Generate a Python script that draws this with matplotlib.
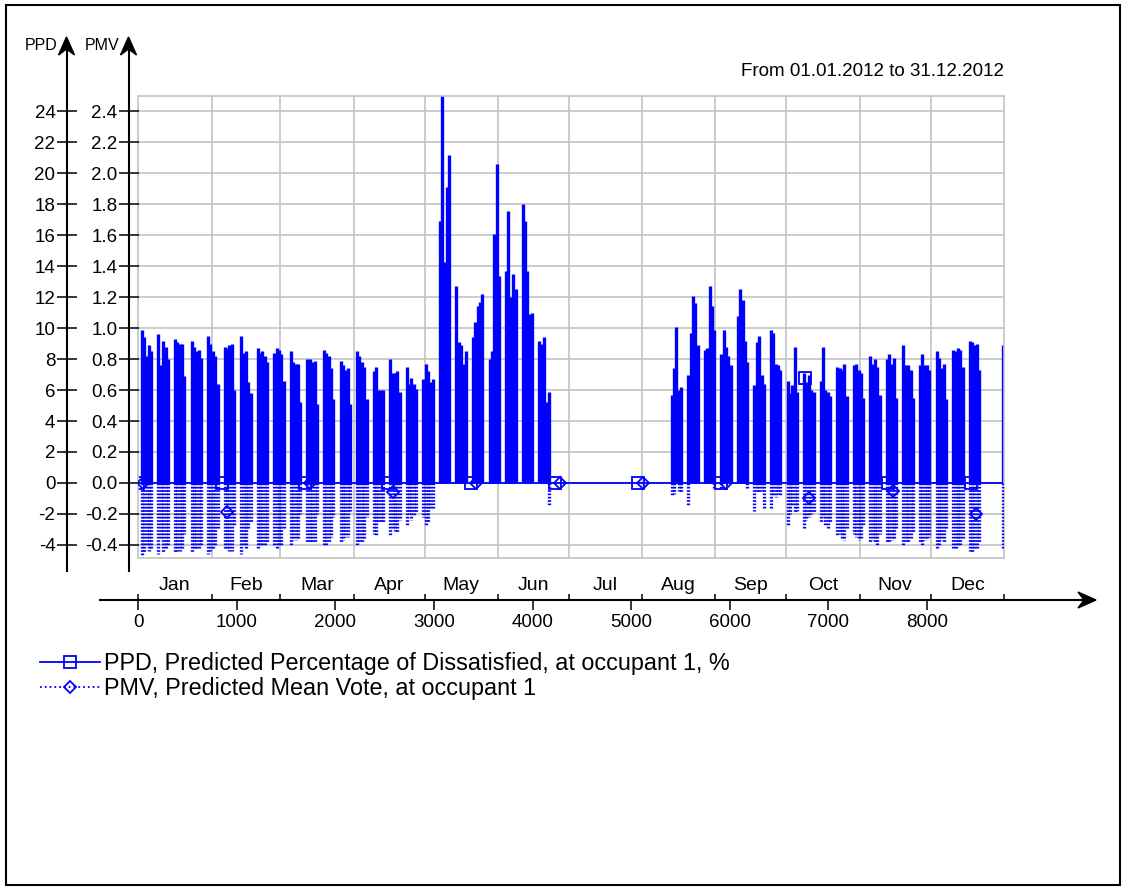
import matplotlib
matplotlib.use('Agg')
import matplotlib.pyplot as plt
import numpy as np
from matplotlib.lines import Line2D
from matplotlib.patches import Rectangle, Polygon

plt.rcParams['font.family'] = ['Liberation Sans', 'DejaVu Sans']
plt.rcParams['axes.unicode_minus'] = False

# ---- data -------------------------------------------------------------
hours_in_year = 8784  # 2012 is a leap year
month_names = ['Jan', 'Feb', 'Mar', 'Apr', 'May', 'Jun',
               'Jul', 'Aug', 'Sep', 'Oct', 'Nov', 'Dec']
month_days = [31, 29, 31, 30, 31, 30, 31, 31, 30, 31, 30, 31]

# occupied weeks (Mon-Fri): daily max PPD [%] and daily min PMV [-]
spring_first_monday = 1      # day of year (0 = 1 Jan 2012)
spring_ppd = [
    [9.9, 9.4, 8.2, 8.9, 8.5], [9.6, 7.6, 9.2, 8.8, 8.0], [9.3, 9.1, 9.0, 9.0, 6.9],
    [9.2, 8.8, 8.5, 8.6, 8.1], [9.5, 9.0, 8.5, 8.2, 6.4], [8.8, 8.7, 8.9, 9.0, 6.0],
    [9.5, 8.4, 8.5, 6.5, 5.8], [8.7, 8.4, 8.5, 8.2, 7.8], [8.4, 8.7, 8.6, 8.3, 6.6],
    [8.5, 7.8, 7.7, 7.7, 5.2], [8.0, 8.0, 7.8, 7.9, 5.1], [8.6, 8.4, 8.2, 7.4, 5.4],
    [7.9, 7.6, 7.3, 7.4, 5.1], [8.5, 8.2, 7.8, 7.5, 5.4], [7.2, 7.5, 6.0, 6.0, 6.0],
    [8.0, 7.1, 7.1, 7.2, 5.9], [7.5, 6.4, 6.8, 6.4, 6.1], [6.7, 7.7, 7.2, 6.5, 6.7],
    [16.9, 25.5, 14.3, 19.1, 21.2], [12.7, 9.1, 8.9, 7.7, 8.5], [9.4, 10.4, 11.4, 11.7, 12.2],
    [8.0, 8.5, 16.1, 20.6, 13.4], [13.7, 17.6, 12.0, 13.5, 12.5], [18.0, 16.9, 13.7, 10.9, 11.0],
    [9.2, 9.0, 9.4, 5.2, 5.9],
]
spring_pmv = [
    [-0.47, -0.45, -0.41, -0.44, -0.42], [-0.46, -0.36, -0.45, -0.43, -0.40],
    [-0.45, -0.44, -0.44, -0.43, -0.33], [-0.45, -0.43, -0.42, -0.42, -0.40],
    [-0.46, -0.44, -0.42, -0.40, -0.30], [-0.43, -0.42, -0.44, -0.44, -0.28],
    [-0.46, -0.41, -0.42, -0.30, -0.26], [-0.42, -0.41, -0.41, -0.40, -0.38],
    [-0.40, -0.42, -0.41, -0.40, -0.30], [-0.41, -0.37, -0.37, -0.36, -0.20],
    [-0.39, -0.39, -0.38, -0.38, -0.20], [-0.41, -0.40, -0.39, -0.35, -0.22],
    [-0.39, -0.37, -0.35, -0.35, -0.18], [-0.40, -0.39, -0.38, -0.36, -0.22],
    [-0.33, -0.34, -0.26, -0.25, -0.25], [-0.34, -0.30, -0.31, -0.32, -0.24],
    [-0.27, -0.20, -0.24, -0.21, -0.19], [-0.22, -0.28, -0.25, -0.17, -0.17],
    [0, 0, 0, 0, 0], [0, 0, 0, 0, 0], [0, 0, 0, 0, 0], [0, 0, 0, 0, 0],
    [0, 0, 0, 0, 0], [0, 0, 0, 0, 0], [0, 0, 0, 0, -0.14],
]
autumn_first_monday = 225
autumn_ppd = [
    [5.7, 7.4, 10.1, 6.0, 6.2], [7.0, 9.7, 12.1, 11.6, 8.9], [8.6, 8.7, 12.7, 11.4, 9.9],
    [8.3, 9.9, 8.8, 8.2, 7.6], [10.8, 12.5, 11.8, 9.2, 7.8], [6.3, 9.1, 9.5, 7.0, 6.4],
    [9.9, 9.7, 7.7, 7.6, 7.3], [6.6, 5.8, 6.3, 8.8, 5.9], [7.1, 6.5, 7.0, 6.0, 5.9],
    [6.6, 8.8, 6.0, 5.9, 5.6], [7.5, 7.4, 7.3, 7.7, 5.6], [7.6, 7.7, 7.3, 7.1, 5.5],
    [8.2, 7.7, 8.0, 7.5, 5.7], [8.0, 8.3, 7.7, 8.1, 5.5], [8.9, 7.6, 7.6, 7.3, 5.5],
    [7.6, 8.3, 7.6, 7.6, 7.3], [8.5, 8.1, 7.4, 7.7, 5.4], [8.6, 8.5, 8.7, 8.6, 7.5],
    [9.2, 9.1, 8.9, 9.0, 7.3],
]
autumn_pmv = [
    [-0.08, -0.07, 0, -0.05, -0.06], [-0.14, 0, 0, 0, 0], [0, 0, 0, 0, -0.03],
    [-0.04, 0, 0, 0, 0], [0, 0, 0, 0, -0.04], [-0.18, -0.06, -0.06, -0.05, -0.17],
    [-0.17, -0.08, -0.09, -0.07, -0.08], [-0.27, -0.20, -0.15, -0.19, -0.18],
    [-0.29, -0.24, -0.22, -0.20, -0.19], [-0.26, -0.22, -0.28, -0.30, -0.25],
    [-0.34, -0.33, -0.36, -0.37, -0.30], [-0.33, -0.35, -0.37, -0.36, -0.28],
    [-0.39, -0.37, -0.38, -0.40, -0.33], [-0.38, -0.39, -0.37, -0.36, -0.30],
    [-0.41, -0.38, -0.38, -0.36, -0.32], [-0.39, -0.40, -0.37, -0.36, -0.35],
    [-0.42, -0.40, -0.37, -0.38, -0.30], [-0.42, -0.43, -0.41, -0.40, -0.36],
    [-0.44, -0.45, -0.43, -0.43, -0.38],
]
last_day = 365          # Monday 31 Dec
last_day_ppd = 8.9
last_day_pmv = -0.43

ppd_marker_hours = [0, 845, 1690, 2535, 3380, 4225, 5070, 5915, 6760, 7605, 8450]
ppd_marker_vals = [0, 0, 0, 0, 0, 0, 0, 0, 6.8, 0, 0]
pmv_marker_hours = [50, 895, 1740, 2585, 3430, 4275, 5120, 5965, 6810, 7655, 8500]
pmv_marker_vals = [0, -0.19, 0, -0.06, 0, 0, 0, 0, -0.1, -0.05, -0.2]


def expand(first_monday, weeks):
    days, vals = [], []
    for w, week in enumerate(weeks):
        for d, v in enumerate(week):
            days.append(first_monday + 7 * w + d)
            vals.append(v)
    return days, vals


d1, p1 = expand(spring_first_monday, spring_ppd)
d2, p2 = expand(autumn_first_monday, autumn_ppd)
_, m1 = expand(spring_first_monday, spring_pmv)
_, m2 = expand(autumn_first_monday, autumn_pmv)
days = np.array(d1 + d2 + [last_day])
ppd = np.array(p1 + p2 + [last_day_ppd])
pmv = np.array(m1 + m2 + [last_day_pmv])
day_hours = days * 24 + 12
month_bounds = np.concatenate([[0], np.cumsum(month_days) * 24])
month_mids = (month_bounds[:-1] + month_bounds[1:]) / 2

# ---- layout (pixel helpers) ------------------------------------------
W, H = 1126, 890
fig = plt.figure(figsize=(W / 100, H / 100), dpi=100)


def fx(px):
    return px / W


def fy(py):
    return 1 - py / H


x0_px, x1_px = 138.3, 1004
y_top, y_bot = 96, 558
ppd_lo, ppd_hi = -4.85, 25.0
px_per_ppd = (y_bot - y_top) / (ppd_hi - ppd_lo)
px_per_hour = (x1_px - x0_px) / hours_in_year

ax = fig.add_axes([fx(x0_px), fy(y_bot), (x1_px - x0_px) / W, (y_bot - y_top) / H])
ax.set_xlim(0, hours_in_year)
ax.set_ylim(ppd_lo, ppd_hi)
ax.set_yticks(np.arange(-4, 25, 2))
ax.set_xticks(month_bounds[1:-1])
ax.grid(color='#c4c4c4', lw=1.2)
ax.tick_params(length=0, labelleft=False, labelbottom=False)
for s in ax.spines.values():
    s.set_color('#c4c4c4')
    s.set_linewidth(1.2)

ax_m = ax.twinx()
ax_m.set_ylim(ppd_lo / 10, ppd_hi / 10)
ax_m.axis('off')

neg = pmv < 0
ax_m.vlines(day_hours[neg], 0, pmv[neg], color='blue', lw=2.4,
            linestyles=[(0, (0.5, 0.5))])
ax.axhline(0, color='blue', lw=1.3)
ax.vlines(day_hours, 0, ppd, color='blue', lw=2.4)
ax.plot(ppd_marker_hours, ppd_marker_vals, ls='none', marker='s', ms=8,
        mfc='none', mec='blue', mew=1.3)
ax_m.plot(pmv_marker_hours, pmv_marker_vals, ls='none', marker='D', ms=6,
          mfc='none', mec='blue', mew=1.3)

# ---- left axes (PPD and PMV) -----------------------------------------
ax_bot_px, ax_top_px = 571, 48


def side_axis(xpx, scale, fmt):
    a = fig.add_axes([fx(xpx), fy(ax_bot_px), 0.00001, (ax_bot_px - ax_top_px) / H])
    lo = ppd_lo - (ax_bot_px - y_bot) / px_per_ppd
    hi = ppd_hi + (y_top - ax_top_px) / px_per_ppd
    a.set_ylim(lo / scale, hi / scale)
    a.patch.set_visible(False)
    for k in ['top', 'right', 'bottom']:
        a.spines[k].set_visible(False)
    a.spines['left'].set_linewidth(1.5)
    a.set_xticks([])
    ticks = np.round(np.arange(-4, 25, 2) / scale, 2) + 0.0
    a.set_yticks(ticks)
    a.set_yticklabels([fmt % t for t in ticks])
    a.tick_params(axis='y', direction='inout', length=14, width=1.1,
                  labelsize=13.5, pad=1)
    return a


side_axis(66.5, 1, '%d')
side_axis(128.5, 10, '%.1f')


def arrow_head(px, py, direction):
    # chevron head with notched base, in pixels
    shape = np.array([[0, 0], [-8, 18], [0, 12], [8, 18]], dtype=float)
    if direction == 'right':
        shape = np.column_stack([-shape[:, 1], shape[:, 0]])
    pts = [(fx(px + sx), fy(py + sy)) for sx, sy in shape]
    fig.patches.append(Polygon(pts, closed=True, color='black',
                               transform=fig.transFigure, figure=fig))


arrow_head(66.5, 37, 'up')
arrow_head(128.5, 37, 'up')
fig.text(fx(57), fy(46), 'PPD', ha='right', va='center', fontsize=11.5)
fig.text(fx(119), fy(46), 'PMV', ha='right', va='center', fontsize=11.5)

# ---- bottom time axis ------------------------------------------------
xa_left, xa_right = 100, 1082
ax_x = fig.add_axes([fx(xa_left), fy(600), (xa_right - xa_left) / W, 0.00001])
ax_x.set_xlim((xa_left - x0_px) / px_per_hour, (xa_right - x0_px) / px_per_hour)
ax_x.patch.set_visible(False)
for k in ['top', 'right', 'left']:
    ax_x.spines[k].set_visible(False)
ax_x.spines['bottom'].set_linewidth(1.5)
ax_x.set_yticks([])
ax_x.set_xticks(np.arange(0, 8001, 1000))
ax_x.set_xticks(month_bounds, minor=True)
ax_x.xaxis.remove_overlapping_locs = False
ax_x.tick_params(axis='x', which='major', direction='out', length=7, width=1.1,
                 labelsize=13.5, pad=3)
ax_x.tick_params(axis='x', which='minor', direction='in', length=4.5, width=1.1)
for name, mid in zip(month_names, month_mids):
    ax_x.annotate(name, xy=(mid, 0), xycoords=('data', 'axes fraction'),
                  xytext=(0, 4), textcoords='offset points',
                  ha='center', va='bottom', fontsize=14)
arrow_head(1096, 600, 'right')

fig.text(fx(1004), fy(71), 'From 01.01.2012 to 31.12.2012', ha='right',
         va='center', fontsize=13.5)

# ---- legend ----------------------------------------------------------
handles = [
    Line2D([], [], color='blue', lw=1.3, marker='s', ms=8, mfc='none', mec='blue', mew=1.3),
    Line2D([], [], color='blue', lw=1.3, ls=':', marker='D', ms=6, mfc='none', mec='blue', mew=1.3),
]
labels = ['PPD, Predicted Percentage of Dissatisfied, at occupant 1, %',
          'PMV, Predicted Mean Vote, at occupant 1']
fig.legend(handles, labels, loc='upper left', bbox_to_anchor=(fx(40), fy(652)),
           frameon=False, fontsize=16.8, handlelength=2.55, handletextpad=0.2,
           borderpad=0, borderaxespad=0, labelspacing=0.08)

# figure frame
fig.patches.append(Rectangle((fx(6), fy(885)), (1120 - 6) / W, (885 - 5) / H,
                             fill=False, ec='black', lw=1.5,
                             transform=fig.transFigure, figure=fig))

fig.savefig('out.png', dpi=100)
